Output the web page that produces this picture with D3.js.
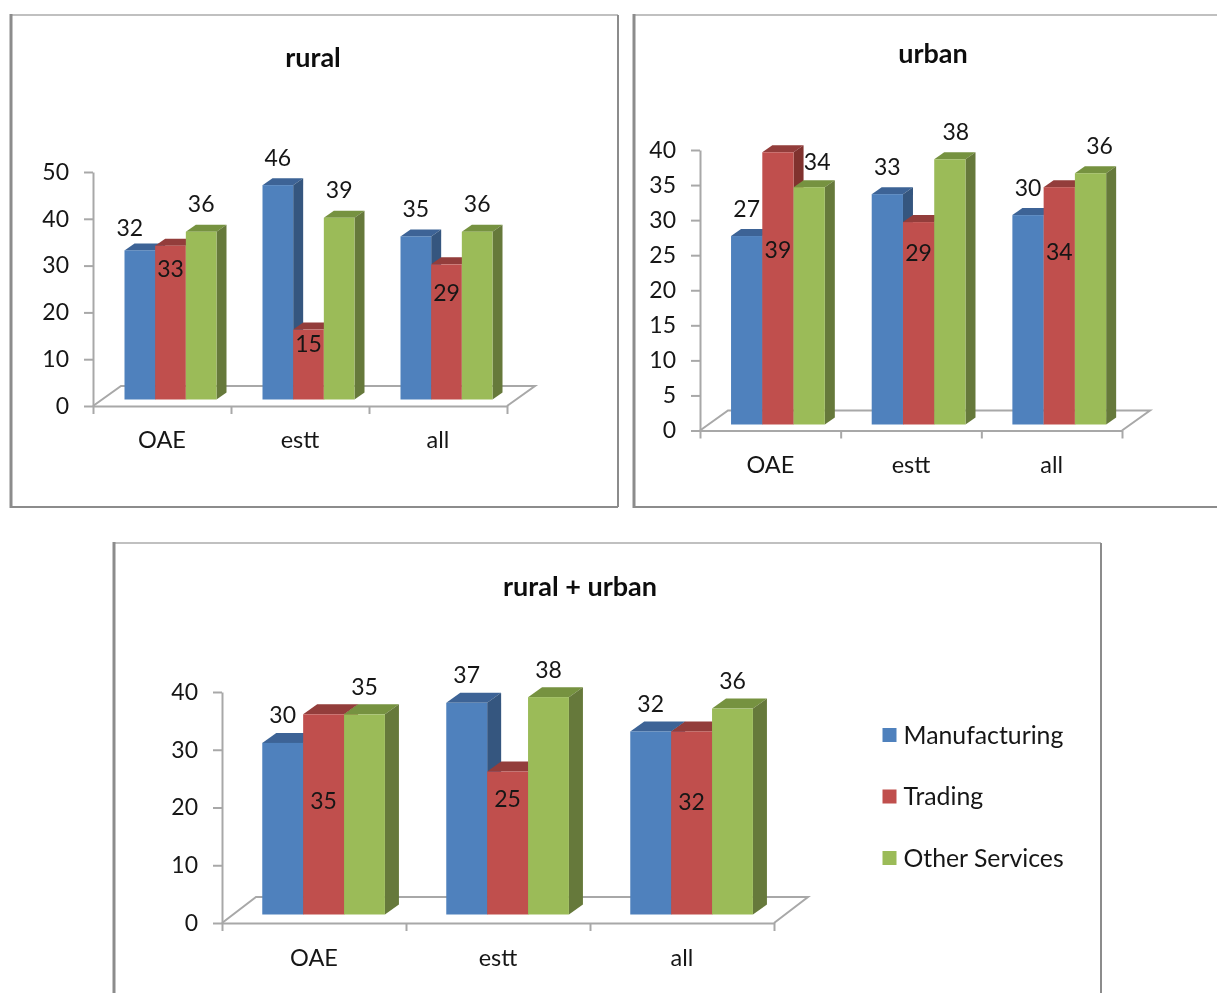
<!DOCTYPE html>
<html><head><meta charset="utf-8">
<script src="https://cdnjs.cloudflare.com/ajax/libs/d3/7.8.5/d3.min.js"></script>
<style>html,body{margin:0;padding:0;background:#fff;overflow:hidden}svg{display:block;font-family:Lato,"Open Sans",sans-serif}</style>
</head><body><svg id="c" width="1217" height="993"></svg>
<script>
const categories = ["OAE","estt","all"];
const seriesNames = ["Manufacturing","Trading","Other Services"];
const ruralManufacturing = [32,46,35];
const ruralTrading = [33,15,29];
const ruralOther = [36,39,36];
const urbanManufacturing = [27,33,30];
const urbanTrading = [39,29,34];
const urbanOther = [34,38,36];
const bothManufacturing = [30,37,32];
const bothTrading = [35,25,32];
const bothOther = [35,38,36];
const ruralTicks = [0,10,20,30,40,50];
const urbanTicks = [0,5,10,15,20,25,30,35,40];
const bothTicks = [0,10,20,30,40];

const front = ["#4F81BD","#C0504D","#9BBB59"];
const top3 = ["#3C6496","#933C3A","#76923F"];
const side = ["#36567F","#80322F","#66793A"];
const gridCol = "#A8A8A8", frameCol = "#8C8C8C", frameLight = "#ABABAB", textCol = "#161616";

const svg = d3.select("#c");
svg.append("defs").append("filter").attr("id","soft").attr("x",0).attr("y",0).attr("width",1).attr("height",1)
  .append("feGaussianBlur").attr("stdDeviation",0.55);
const root = svg.append("g").attr("filter","url(#soft)");
root.append("rect").attr("width",1217).attr("height",993).attr("fill","#fff");

// frame edges: x1,y1,x2,y2,width,colour
const frames = [
 [11,15,618,15,1.5,frameLight],[11,14,11,508,3,frameCol],[618,15,618,507,2,frameCol],[11,507,618,507,2,frameCol],
 [634,15,1217,15,1.5,frameLight],[634,14,634,508,3,frameCol],[634,507,1217,507,2,frameCol],
 [114,543,1101,543,1.5,frameLight],[114,542,114,993,3,frameCol],[1101,543,1101,993,2,frameCol]
];
root.selectAll("line.frame").data(frames).join("line").attr("class","frame")
  .attr("x1",d=>d[0]).attr("y1",d=>d[1]).attr("x2",d=>d[2]).attr("y2",d=>d[3])
  .attr("stroke-width",d=>d[4]).attr("stroke",d=>d[5]);

const charts = [
 {title:"rural",tx:313,ty:58,x0:93,x1:507,y0:406,yTop:172,max:50,ticks:ruralTicks,base:399.5,k:4.66,shift:8.5,
  dx:10,dy:7,fx:28,fy:20,catY:440,
  vals:[ruralManufacturing,ruralTrading,ruralOther],redH:[131,56,107],nudge:{"0-0":[-10,5]}},
 {title:"urban",tx:933,ty:54,x0:700,x1:1122,y0:430.5,yTop:150,max:40,ticks:urbanTicks,base:424.5,k:6.98,shift:7.6,
  dx:10,dy:7,fx:28,fy:20,catY:465,
  vals:[urbanManufacturing,urbanTrading,urbanOther],redH:[175,172,173],nudge:{"2-0":[8,2],"2-1":[6,0],"2-2":[9,0]}},
 {title:"rural + urban",tx:580,ty:587,x0:222,x1:774,y0:923,yTop:692,max:40,ticks:bothTicks,base:914.5,k:5.72,shift:9.6,
  dx:14,dy:10,fx:34,fy:26,catY:958,
  vals:[bothManufacturing,bothTrading,bothOther],redH:[114,116,113],nudge:{}}
];

charts.forEach(c=>{
  const g = root.append("g");
  g.append("text").attr("x",c.tx).attr("y",c.ty).attr("dy",".35em").attr("text-anchor","middle")
    .attr("font-size",27).attr("font-weight",700).attr("fill","#111").text(c.title);

  // floor
  g.append("path").attr("fill","none").attr("stroke",gridCol).attr("stroke-width",2)
    .attr("d",d3.line()([[c.x0,c.y0],[c.x0+c.fx,c.y0-c.fy],[c.x1+c.fx,c.y0-c.fy],[c.x1,c.y0]]));

  // axes
  const y = d3.scaleLinear([0,c.max],[c.y0,c.yTop]);
  const ax = g.append("g").attr("transform",`translate(${c.x0},0)`)
    .call(d3.axisLeft(y).tickValues(c.ticks).tickSize(9).tickPadding(15).tickSizeOuter(0));
  const cat = d3.scaleBand(categories,[c.x0,c.x1]);
  const bx = g.append("g").attr("transform",`translate(0,${c.y0})`)
    .call(d3.axisBottom(d3.scaleLinear([0,categories.length],[c.x0,c.x1])).tickValues(d3.range(categories.length+1)).tickSize(8).tickFormat("").tickSizeOuter(0));
  const cx = g.append("g").attr("transform",`translate(0,${c.catY})`)
    .call(d3.axisBottom(cat).tickSize(0).tickPadding(0));
  cx.select(".domain").remove();
  cx.selectAll("text").attr("dy",".35em").attr("y",0);
  ax.selectAll("text").attr("font-size",23).attr("fill",textCol).attr("font-family","Lato");
  cx.selectAll("text").attr("font-size",23.5).attr("fill",textCol).attr("font-family","Lato");
  [ax,bx].forEach(a=>{a.selectAll("path,line").attr("stroke",gridCol).attr("stroke-width",2);});

  // bars
  const xb = d3.scaleBand(categories,[c.x0+c.shift,c.x1+c.shift]).paddingInner(1/3).paddingOuter(1/6);
  const xi = d3.scaleBand(seriesNames,[0,xb.bandwidth()]);
  const yb = d3.scaleLinear([0,1],[c.base,c.base-c.k]);
  const w = xi.bandwidth();
  categories.forEach((ct,ci)=>{
    seriesNames.forEach((s,si)=>{
      const v = c.vals[si][ci], X = xb(ct)+xi(s), Y = yb(v), B = c.base;
      const b = g.append("g");
      b.append("path").attr("fill",top3[si]).attr("d",d3.line()([[X,Y],[X+c.dx,Y-c.dy],[X+w+c.dx,Y-c.dy],[X+w,Y]])+"Z");
      b.append("path").attr("fill",side[si]).attr("d",d3.line()([[X+w,Y],[X+w+c.dx,Y-c.dy],[X+w+c.dx,B-c.dy],[X+w,B]])+"Z");
      b.append("rect").attr("x",X).attr("y",Y).attr("width",w).attr("height",B-Y).attr("fill",front[si]);
    });
  });
  // labels on top of everything
  categories.forEach((ct,ci)=>{
    seriesNames.forEach((s,si)=>{
      const v = c.vals[si][ci], X = xb(ct)+xi(s)+w/2;
      const n = c.nudge[si+"-"+ci]||[0,0];
      const ly = si===1 ? c.base-c.redH[ci] : yb(v)-27.5+n[1];
      g.append("text").attr("x",X+n[0]).attr("y",ly).attr("dy",".35em").attr("text-anchor","middle")
        .attr("font-size",23).attr("fill",textCol).text(v);
    });
  });
});

// legend
const lg = d3.scalePoint(seriesNames,[735,858]);
const L = root.append("g").selectAll("g").data(seriesNames).join("g").attr("transform",d=>`translate(882.5,${lg(d)})`);
L.append("rect").attr("x",0).attr("y",-7).attr("width",14).attr("height",14).attr("fill",(d,i)=>front[i]);
L.append("text").attr("x",21).attr("dy",".35em").attr("font-size",24.8).attr("fill",textCol).text(d=>d);
</script></body></html>
